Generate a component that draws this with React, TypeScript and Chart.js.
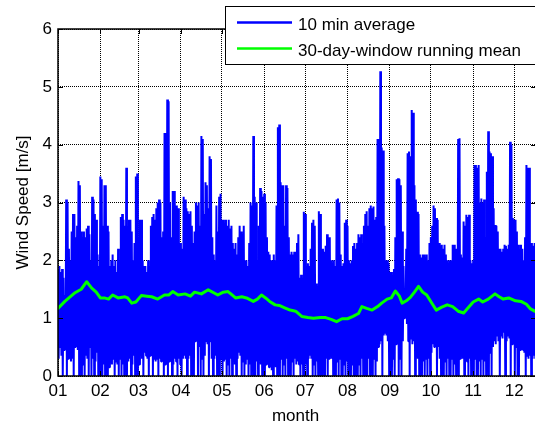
import React, { useEffect, useRef } from 'react';
import { Chart, registerables } from 'chart.js';

Chart.register(...registerables);

// ---- data (x axis = day of year, 0 = 1 Jan) ----
const monthDays = [0, 31, 59, 90, 120, 151, 181, 212, 243, 273, 304, 334];
const monthLabels = ['01', '02', '03', '04', '05', '06', '07', '08', '09', '10', '11', '12'];
const yTickValues = [0, 1, 2, 3, 4, 5, 6];

// daily upper envelope of the 10-min averages (m/s), days 0..349
const dailyHigh = [
  1.85, 1.9, 1.8, 1.85, 1.7, 1.4, 3.05, 3.0, 2.2, 2.0,
  2.5, 2.8, 2.8, 2.4, 2.6, 3.37, 3.3, 2.5, 2.4, 2.5,
  2.4, 2.55, 2.6, 2.45, 2.0, 3.1, 3.05, 2.8, 2.7, 2.1,
  1.9, 3.45, 3.4, 2.6, 3.3, 3.3, 2.6, 2.5, 1.9, 2.0,
  2.1, 1.9, 2.0, 1.8, 2.2, 2.0, 2.75, 2.8, 2.7, 2.6,
  3.6, 2.2, 2.7, 2.7, 2.5, 2.0, 2.3, 3.45, 3.5, 2.4,
  2.7, 2.7, 2.0, 1.9, 1.9, 1.8, 2.0, 1.9, 2.6, 2.75,
  2.8, 2.7, 2.9, 3.0, 3.05, 3.0, 2.4, 2.5, 4.2, 4.2,
  4.78, 4.75, 3.0, 2.4, 3.2, 3.2, 2.95, 2.95, 2.9, 2.3,
  2.3, 2.2, 3.1, 3.05, 2.9, 2.85, 2.8, 2.85, 2.6, 2.3,
  2.5, 3.0, 2.95, 3.0, 2.6, 4.15, 4.1, 2.8, 3.35, 3.3,
  2.9, 3.8, 3.75, 2.4, 2.1, 2.0, 2.95, 2.5, 3.1, 3.15,
  2.7, 2.7, 2.65, 2.7, 2.6, 2.7, 2.55, 2.6, 2.3, 2.2,
  2.3, 2.1, 2.4, 2.6, 2.5, 2.45, 2.6, 2.0, 2.0, 1.9,
  2.3, 3.0, 2.95, 4.15, 3.1, 3.0, 2.0, 2.6, 3.25, 3.2,
  3.1, 3.15, 3.0, 2.4, 2.15, 2.1, 2.0, 2.0, 2.1, 2.0,
  2.95, 4.3, 4.35, 3.35, 3.3, 3.3, 2.6, 3.3, 3.25, 2.4,
  2.1, 2.15, 2.1, 2.15, 2.1, 2.3, 2.45, 1.7, 1.75, 1.7,
  2.84, 2.8, 1.9, 1.95, 1.9, 2.2, 2.65, 2.7, 2.6, 1.6,
  1.55, 2.85, 2.8, 2.2, 2.2, 2.15, 2.25, 2.45, 2.4, 2.4,
  2.0, 1.95, 2.0, 1.9, 3.05, 3.07, 3.0, 2.1, 1.9, 1.95,
  2.65, 2.7, 2.6, 2.0, 1.95, 2.0, 2.25, 2.3, 2.2, 2.3,
  2.45, 2.4, 2.45, 2.3, 2.6, 2.8, 2.85, 2.6, 2.9, 2.95,
  2.9, 2.93, 2.7, 2.75, 4.1, 4.1, 5.27, 3.95, 3.9, 2.6,
  2.0, 2.0, 1.95, 1.8, 1.8, 1.75, 1.85, 2.4, 3.4, 3.42,
  3.4, 3.3, 2.5, 1.9, 1.3, 2.2, 3.85, 3.88, 3.8, 4.6,
  4.55, 3.3, 3.05, 2.84, 2.8, 2.1, 2.05, 2.1, 2.1, 2.05,
  2.1, 2.0, 2.3, 2.4, 2.6, 2.95, 2.9, 2.73, 2.7, 2.3,
  2.25, 2.27, 2.2, 2.27, 2.1, 2.0, 1.95, 2.0, 2.0, 2.27,
  2.27, 2.2, 2.2, 4.1, 4.11, 2.1, 2.05, 2.67, 2.6, 2.79,
  2.75, 2.79, 2.0, 1.95, 2.0, 3.65, 3.65, 3.6, 3.65, 3.0,
  3.07, 3.0, 3.05, 2.4, 3.53, 4.23, 3.88, 3.85, 3.8, 2.9,
  2.61, 2.6, 2.5, 2.2, 2.2, 2.15, 2.2, 2.27, 2.25, 2.2,
  2.27, 4.05, 4.0, 2.73, 2.7, 2.7, 2.5, 2.27, 2.2, 2.27,
  2.2, 2.0, 2.4, 3.65, 3.6, 3.6, 2.3, 2.3, 2.25, 2.3,
];

// daily lower envelope of the 10-min averages (m/s), days 0..349
const dailyLow = [
  0.3, 0.5, 0.35, 0.0, 0.45, 0.5, 0.0, 0.3, 0.35, 0.25,
  0.3, 0.0, 0.5, 0.55, 0.45, 0.0, 0.4, 0.0, 0.2, 0.0,
  0.35, 0.3, 0.0, 0.5, 0.0, 0.3, 0.0, 0.25, 0.4, 0.0,
  0.3, 0.0, 0.0, 0.2, 0.0, 0.3, 0.0, 0.15, 0.25, 0.2,
  0.3, 0.0, 0.25, 0.2, 0.0, 0.3, 0.0, 0.2, 0.0, 0.35,
  0.0, 0.25, 0.3, 0.0, 0.2, 0.35, 0.0, 0.3, 0.0, 0.2,
  0.35, 0.3, 0.0, 0.4, 0.35, 0.3, 0.0, 0.35, 0.4, 0.0,
  0.3, 0.25, 0.3, 0.0, 0.3, 0.25, 0.3, 0.0, 0.2, 0.3,
  0.0, 0.25, 0.3, 0.0, 0.2, 0.3, 0.25, 0.0, 0.3, 0.2,
  0.0, 0.3, 0.35, 0.3, 0.0, 0.3, 0.35, 0.0, 0.3, 0.0,
  0.6, 0.8, 0.0, 0.5, 0.0, 0.3, 0.0, 0.35, 0.6, 0.55,
  0.0, 0.6, 0.3, 0.0, 0.3, 0.35, 0.0, 0.25, 0.0, 0.3,
  0.0, 0.25, 0.3, 0.0, 0.2, 0.0, 0.3, 0.0, 0.25, 0.2,
  0.0, 0.3, 0.4, 0.35, 0.0, 0.25, 0.0, 0.2, 0.3, 0.0,
  0.2, 0.0, 0.3, 0.0, 0.0, 0.25, 0.0, 0.3, 0.2, 0.0,
  0.3, 0.0, 0.2, 0.25, 0.15, 0.2, 0.1, 0.0, 0.2, 0.15,
  0.0, 0.25, 0.0, 0.3, 0.0, 0.2, 0.0, 0.3, 0.0, 0.2,
  0.0, 0.25, 0.0, 0.3, 0.2, 0.25, 0.2, 0.0, 0.2, 0.0,
  0.0, 0.2, 0.0, 0.3, 0.35, 0.3, 0.0, 0.2, 0.0, 0.25,
  0.0, 0.3, 0.0, 0.0, 0.25, 0.0, 0.3, 0.0, 0.3, 0.35,
  0.3, 0.0, 0.2, 0.0, 0.25, 0.0, 0.3, 0.0, 0.0, 0.2,
  0.0, 0.25, 0.0, 0.3, 0.0, 0.2, 0.0, 0.0, 0.25, 0.0,
  0.2, 0.0, 0.3, 0.0, 0.25, 0.0, 0.0, 0.3, 0.0, 0.2,
  0.0, 0.3, 0.0, 0.25, 0.5, 0.55, 0.6, 0.0, 0.7, 0.75,
  0.7, 0.6, 0.0, 0.5, 0.0, 0.3, 0.0, 0.55, 0.6, 0.0,
  0.3, 0.0, 0.6, 1.0, 1.1, 0.9, 0.6, 0.0, 0.65, 0.55,
  0.6, 0.0, 0.5, 0.3, 0.0, 0.3, 0.0, 0.25, 0.0, 0.3,
  0.0, 0.3, 0.0, 0.4, 0.55, 0.5, 0.55, 0.0, 0.5, 0.3,
  0.0, 0.3, 0.0, 0.25, 0.0, 0.3, 0.0, 0.0, 0.3, 0.0,
  0.2, 0.0, 0.3, 0.0, 0.3, 0.35, 0.3, 0.0, 0.3, 0.25,
  0.0, 0.3, 0.0, 0.25, 0.0, 0.3, 0.0, 0.0, 0.25, 0.0,
  0.3, 0.0, 0.25, 0.0, 0.3, 0.0, 0.4, 0.0, 0.5, 0.6,
  0.55, 0.7, 0.6, 0.0, 0.7, 0.65, 0.75, 0.0, 0.6, 0.7,
  0.65, 0.0, 0.55, 0.6, 0.0, 0.5, 0.0, 0.0, 0.45, 0.5,
  0.45, 0.4, 0.0, 0.35, 0.3, 0.35, 0.0, 0.3, 0.35, 0.3,
];

// 30-day-window running mean
const meanDays = [
  0, 5, 12.5, 17, 21, 24.7, 28, 31, 34, 37, 40, 44, 49, 51, 54, 57, 61, 65, 68.6, 73,
  78, 81, 84, 88, 93, 97, 100, 105, 110, 114, 117, 121, 124.5, 127, 130, 134.6, 138, 143, 146, 149,
  152, 155, 159, 162, 166, 170, 174, 178.5, 183, 187, 192, 196, 200, 204, 208, 212, 216, 220, 222.5, 226,
  230, 234, 237, 241, 244, 247, 250, 252, 255, 258, 261, 264, 267, 270, 274, 277, 281, 285, 289, 293,
  297, 300, 304, 308, 311, 315, 320, 323, 326, 330, 335, 339, 343, 346, 350,
];
const meanValues = [
  1.17, 1.29, 1.44, 1.5, 1.63, 1.52, 1.45, 1.35, 1.35, 1.33, 1.4, 1.35, 1.37, 1.35, 1.26, 1.28, 1.39, 1.38, 1.37, 1.33,
  1.4, 1.4, 1.46, 1.4, 1.42, 1.38, 1.45, 1.42, 1.49, 1.44, 1.4, 1.45, 1.46, 1.41, 1.35, 1.37, 1.35, 1.29, 1.33, 1.4,
  1.35, 1.29, 1.23, 1.22, 1.18, 1.14, 1.12, 1.03, 1.01, 1.0, 1.01, 1.01, 0.98, 0.94, 0.99, 0.99, 1.03, 1.08, 1.2, 1.17,
  1.14, 1.2, 1.26, 1.33, 1.35, 1.47, 1.38, 1.26, 1.3, 1.36, 1.45, 1.55, 1.45, 1.4, 1.25, 1.14, 1.19, 1.23, 1.2, 1.12,
  1.09, 1.17, 1.28, 1.33, 1.28, 1.33, 1.42, 1.37, 1.33, 1.35, 1.3, 1.29, 1.24, 1.16, 1.11,
];

const seriesNames = ['10 min average', '30-day-window running mean'];
const xTitle = 'month';
const yTitle = 'Wind Speed [m/s]';

const FONT = "'Liberation Sans', Arial, sans-serif";

const decorPlugin = {
  id: 'matlabDecor',
  afterDatasetsDraw(chart: any) {
    const { ctx, chartArea: a, scales } = chart;
    ctx.save();
    ctx.strokeStyle = '#000';
    // inward tick marks on all four sides
    ctx.lineWidth = 1;
    ctx.beginPath();
    monthDays.forEach((d) => {
      const x = Math.round(scales.x.getPixelForValue(d)) + 0.5;
      ctx.moveTo(x, a.bottom);
      ctx.lineTo(x, a.bottom - 5);
      ctx.moveTo(x, a.top);
      ctx.lineTo(x, a.top + 5);
    });
    yTickValues.forEach((v) => {
      const y = Math.round(scales.y.getPixelForValue(v)) + 0.5;
      ctx.moveTo(a.left, y);
      ctx.lineTo(a.left + 5, y);
      ctx.moveTo(a.right, y);
      ctx.lineTo(a.right - 5, y);
    });
    ctx.stroke();
    // axes box
    ctx.lineWidth = 1.5;
    ctx.strokeRect(a.left, a.top, a.right - a.left, a.bottom - a.top);
    ctx.restore();
  },
  afterDraw(chart: any) {
    const { ctx, chartArea: a } = chart;
    ctx.save();
    ctx.fillStyle = '#000';
    ctx.font = `17px ${FONT}`;
    // x title
    ctx.textAlign = 'center';
    ctx.textBaseline = 'alphabetic';
    ctx.fillText(xTitle, (a.left + 533) / 2, 421);
    // y title
    ctx.save();
    ctx.translate(27.5, (a.top + a.bottom) / 2);
    ctx.rotate(-Math.PI / 2);
    ctx.fillText(yTitle, 0, 0);
    ctx.restore();
    // legend box
    ctx.fillStyle = '#fff';
    ctx.fillRect(225, 6, 330, 58);
    ctx.strokeStyle = '#000';
    ctx.lineWidth = 1;
    ctx.strokeRect(225.5, 6.5, 330, 58);
    const rows = [
      { y: 22.5, color: '#0000ff', w: 2.5 },
      { y: 48.5, color: '#00ff00', w: 2.5 },
    ];
    rows.forEach((r, i) => {
      ctx.strokeStyle = r.color;
      ctx.lineWidth = r.w;
      ctx.beginPath();
      ctx.moveTo(237, r.y);
      ctx.lineTo(292, r.y);
      ctx.stroke();
      ctx.fillStyle = '#000';
      ctx.textAlign = 'left';
      ctx.textBaseline = 'alphabetic';
      ctx.fillText(seriesNames[i], 298, r.y + 7);
    });
    ctx.restore();
  },
};

export default function App() {
  const ref = useRef<HTMLCanvasElement | null>(null);

  useEffect(() => {
    if (!ref.current) return;
    const blueData: { x: number; y: number }[] = [];
    dailyHigh.forEach((h, d) => {
      blueData.push({ x: d, y: h });
      blueData.push({ x: d + 0.5, y: dailyLow[d] });
    });
    const greenData = meanDays.map((d, i) => ({ x: d, y: meanValues[i] }));

    const chart = new Chart(ref.current, {
      type: 'line',
      data: {
        datasets: [
          {
            label: seriesNames[1],
            data: greenData,
            borderColor: '#00ff00',
            borderWidth: 3,
            pointRadius: 0,
            tension: 0,
            borderJoinStyle: 'round',
            borderCapStyle: 'round',
          },
          {
            label: seriesNames[0],
            data: blueData,
            borderColor: '#0000ff',
            borderWidth: 2,
            pointRadius: 0,
            tension: 0,
            borderJoinStyle: 'bevel',
          },
        ],
      },
      options: {
        responsive: false,
        maintainAspectRatio: false,
        devicePixelRatio: 1,
        animation: false,
        events: [],
        layout: { padding: { top: 29, right: 4, left: 0, bottom: 0 } },
        plugins: {
          legend: { display: false },
          title: { display: false },
          tooltip: { enabled: false },
        },
        scales: {
          x: {
            type: 'linear',
            min: 0,
            max: 350,
            afterBuildTicks: (s: any) => {
              s.ticks = monthDays.map((v) => ({ value: v }));
            },
            afterFit: (s: any) => {
              s.height = 49;
            },
            ticks: {
              autoSkip: false,
              maxRotation: 0,
              padding: 5,
              color: '#000',
              font: { family: FONT, size: 17 },
              callback: (v: any) => {
                const i = monthDays.indexOf(Number(v));
                return i >= 0 ? monthLabels[i] : '';
              },
            },
            grid: { color: '#000', lineWidth: 1, drawTicks: false },
            border: { display: false, dash: [1, 1] },
          },
          y: {
            type: 'linear',
            min: 0,
            max: 6,
            afterBuildTicks: (s: any) => {
              s.ticks = yTickValues.map((v) => ({ value: v }));
            },
            afterFit: (s: any) => {
              s.width = 58;
            },
            ticks: {
              padding: 6,
              color: '#000',
              font: { family: FONT, size: 17 },
            },
            grid: { color: '#000', lineWidth: 1, drawTicks: false },
            border: { display: false, dash: [1, 1] },
          },
        },
      },
      plugins: [decorPlugin],
    });
    return () => chart.destroy();
  }, []);

  return (
    <div
      style={{
        position: 'fixed',
        left: 0,
        top: 0,
        width: 535,
        height: 425,
        overflow: 'hidden',
        background: '#fff',
      }}
    >
      <canvas ref={ref} width={540} height={425} style={{ display: 'block' }} />
    </div>
  );
}
